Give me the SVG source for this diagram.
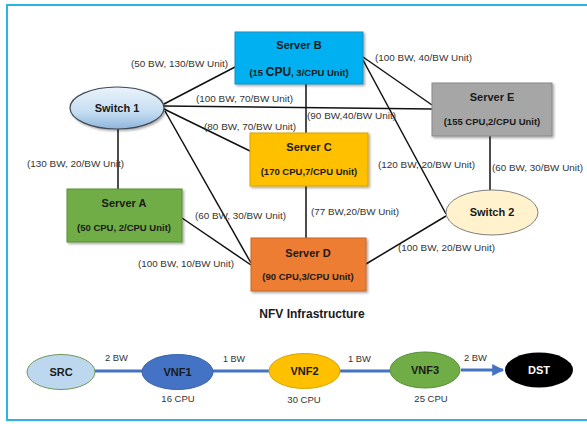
<svg xmlns="http://www.w3.org/2000/svg" width="587" height="424" viewBox="0 0 587 424">
<defs>
<filter id="sh" x="-10%" y="-10%" width="125%" height="130%">
<feDropShadow dx="1.5" dy="1.5" stdDeviation="1.2" flood-color="#000" flood-opacity="0.35"/>
</filter>
<linearGradient id="sw1" x1="0" y1="0" x2="0" y2="1">
<stop offset="0" stop-color="#EAF3FB"/>
<stop offset="0.6" stop-color="#C5DDF2"/>
<stop offset="1" stop-color="#8FB5DB"/>
</linearGradient>
<marker id="arr" viewBox="0 0 10 10" refX="9" refY="5" markerWidth="4" markerHeight="4" orient="auto" markerUnits="strokeWidth">
<path d="M0,0 L10,5 L0,10 z" fill="#4472C4"/>
</marker>
<style>
text{font-family:"Liberation Sans",Arial,sans-serif;fill:#262626}
.lbl{font-size:9.5px;fill:#333}
.t{font-size:11px;font-weight:bold;text-anchor:middle;fill:#1a1a1a}
.s{font-size:9.5px;font-weight:bold;text-anchor:middle;fill:#1a1a1a}
.big{font-size:12px}
.ln{stroke:#111;stroke-width:1.5;fill:none}
.bl{stroke:#4472C4;stroke-width:3;fill:none}
.cpu{font-size:9.5px;text-anchor:middle;fill:#333}
</style>
</defs>
<rect x="7" y="5" width="590" height="415" fill="#fff" stroke="#2BB5E6" stroke-width="2"/>

<g id="connectors">
<line class="ln" x1="164" y1="104" x2="235" y2="67"/>
<line class="ln" x1="164" y1="106" x2="432" y2="109"/>
<line class="ln" x1="164" y1="109" x2="250" y2="151"/>
<line class="ln" x1="165" y1="111" x2="251" y2="263"/>
<line class="ln" x1="118" y1="129" x2="118" y2="189"/>
<line class="ln" x1="182" y1="218" x2="251" y2="265"/>
<line class="ln" x1="363" y1="57" x2="432" y2="105"/>
<line class="ln" x1="363" y1="60" x2="446" y2="214"/>
<line class="ln" x1="306" y1="84" x2="306" y2="133"/>
<line class="ln" x1="490" y1="136" x2="490" y2="190"/>
<line class="ln" x1="306" y1="186" x2="306" y2="238"/>
<line class="ln" x1="366" y1="264" x2="446" y2="216"/>
<line class="bl" x1="95" y1="371" x2="142" y2="371"/>
<line class="bl" x1="213" y1="371" x2="269" y2="371"/>
<line class="bl" x1="340" y1="371" x2="390" y2="371"/>
<line class="bl" x1="461" y1="370" x2="503" y2="370" marker-end="url(#arr)"/>
</g>

<g id="labels">
<text class="lbl" x="131" y="67" textLength="97" lengthAdjust="spacingAndGlyphs">(50 BW, 130/BW Unit)</text>
<text class="lbl" x="196" y="102" textLength="97" lengthAdjust="spacingAndGlyphs">(100 BW, 70/BW Unit)</text>
<text class="lbl" x="204" y="130" textLength="92" lengthAdjust="spacingAndGlyphs">(80 BW, 70/BW Unit)</text>
<text class="lbl" x="307" y="119" textLength="89" lengthAdjust="spacingAndGlyphs">(90 BW,40/BW Unit)</text>
<text class="lbl" x="375" y="61" textLength="97" lengthAdjust="spacingAndGlyphs">(100 BW, 40/BW Unit)</text>
<text class="lbl" x="27" y="167" textLength="97" lengthAdjust="spacingAndGlyphs">(130 BW, 20/BW Unit)</text>
<text class="lbl" x="195" y="219" textLength="91" lengthAdjust="spacingAndGlyphs">(60 BW, 30/BW Unit)</text>
<text class="lbl" x="138" y="267" textLength="96" lengthAdjust="spacingAndGlyphs">(100 BW, 10/BW Unit)</text>
<text class="lbl" x="378" y="168" textLength="97" lengthAdjust="spacingAndGlyphs">(120 BW, 20/BW Unit)</text>
<text class="lbl" x="492" y="171" textLength="91" lengthAdjust="spacingAndGlyphs">(60 BW, 30/BW Unit)</text>
<text class="lbl" x="311" y="215" textLength="88" lengthAdjust="spacingAndGlyphs">(77 BW,20/BW Unit)</text>
<text class="lbl" x="398" y="251" textLength="97" lengthAdjust="spacingAndGlyphs">(100 BW, 20/BW Unit)</text>
<text class="lbl" x="105" y="361" textLength="23" lengthAdjust="spacingAndGlyphs">2 BW</text>
<text class="lbl" x="223" y="362" textLength="22" lengthAdjust="spacingAndGlyphs">1 BW</text>
<text class="lbl" x="348" y="362" textLength="23" lengthAdjust="spacingAndGlyphs">1 BW</text>
<text class="lbl" x="464" y="361" textLength="23" lengthAdjust="spacingAndGlyphs">2 BW</text>
<text class="cpu" x="178" y="402">16 CPU</text>
<text class="cpu" x="304" y="403">30 CPU</text>
<text class="cpu" x="431" y="402">25 CPU</text>
<text x="312" y="318" style="font-size:12px;font-weight:bold;text-anchor:middle;fill:#1a1a1a">NFV Infrastructure</text>
</g>

<g id="serverB">
<rect x="235" y="32" width="128" height="52" fill="#00B0F0" stroke="#1a8fc0" filter="url(#sh)"/>
<text class="t" x="299" y="49">Server B</text>
<text class="s" x="299" y="76">(15 <tspan class="big">CPU</tspan>, 3/CPU Unit)</text>
</g>
<g id="switch1">
<ellipse cx="117" cy="108" rx="47" ry="21" fill="url(#sw1)" stroke="#404a55" stroke-width="1.2" filter="url(#sh)"/>
<text class="t" x="117" y="112">Switch 1</text>
</g>
<g id="serverE">
<rect x="432" y="83" width="120" height="53" fill="#A6A6A6" stroke="#8a8a8a" filter="url(#sh)"/>
<text class="t" x="492" y="101">Server E</text>
<text class="s" x="492" y="125">(155 CPU,2/CPU Unit)</text>
</g>
<g id="serverC">
<rect x="250" y="133" width="118" height="53" fill="#FFC000" stroke="#d9a300" filter="url(#sh)"/>
<text class="t" x="309" y="151">Server C</text>
<text class="s" x="309" y="175">(170 CPU,7/CPU Unit)</text>
</g>
<g id="serverA">
<rect x="67" y="189" width="115" height="53" fill="#70AD47" stroke="#5a8f38" filter="url(#sh)"/>
<text class="t" x="124" y="207">Server A</text>
<text class="s" x="124" y="231">(50 CPU, 2/CPU Unit)</text>
</g>
<g id="serverD">
<rect x="251" y="238" width="115" height="53" fill="#ED7D31" stroke="#c9662a" filter="url(#sh)"/>
<text class="t" x="308" y="257">Server D</text>
<text class="s" x="308" y="280">(90 CPU,3/CPU Unit)</text>
</g>
<g id="switch2">
<ellipse cx="492" cy="212.5" rx="46" ry="22.5" fill="#FFF2CC" stroke="#7f7f7f" stroke-width="1"/>
<text class="t" x="492" y="216">Switch 2</text>
</g>

<g id="src">
<ellipse cx="61" cy="372" rx="34" ry="17.5" fill="#BDD7EE" stroke="#6f9a5a" stroke-width="1"/>
<text class="t" x="61" y="376">SRC</text>
</g>
<g id="vnf1">
<ellipse cx="177.5" cy="372" rx="35.5" ry="17.5" fill="#4472C4" stroke="#3a62a8" stroke-width="1"/>
<text class="t" x="177.5" y="376">VNF1</text>
</g>
<g id="vnf2">
<ellipse cx="304.5" cy="371" rx="35.5" ry="17.5" fill="#FFC000" stroke="#d9a300" stroke-width="1"/>
<text class="t" x="304.5" y="375">VNF2</text>
</g>
<g id="vnf3">
<ellipse cx="425" cy="370" rx="35" ry="18" fill="#70AD47" stroke="#5a8f38" stroke-width="1"/>
<text class="t" x="425" y="374">VNF3</text>
</g>
<g id="dst">
<ellipse cx="539" cy="370" rx="34" ry="17.5" fill="#000"/>
<text class="t" x="539" y="374" style="fill:#fff">DST</text>
</g>
</svg>
